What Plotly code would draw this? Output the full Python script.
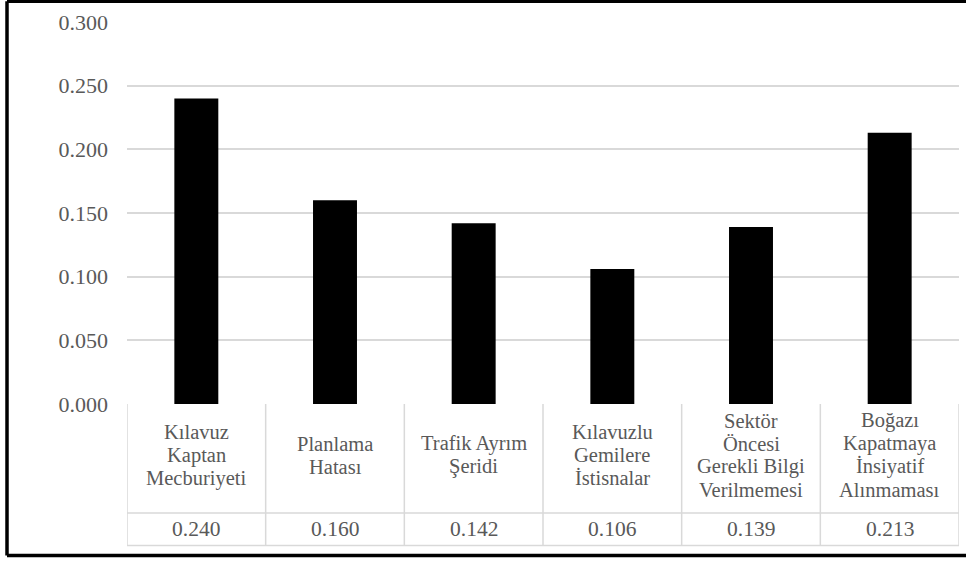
import plotly.graph_objects as go

# ---- data ----
categories = [
    "Kılavuz Kaptan Mecburiyeti",
    "Planlama Hatası",
    "Trafik Ayrım Şeridi",
    "Kılavuzlu Gemilere İstisnalar",
    "Sektör Öncesi Gerekli Bilgi Verilmemesi",
    "Boğazı Kapatmaya İnsiyatif Alınmaması",
]
label_lines = [
    ["Kılavuz", "Kaptan", "Mecburiyeti"],
    ["Planlama", "Hatası"],
    ["Trafik Ayrım", "Şeridi"],
    ["Kılavuzlu", "Gemilere", "İstisnalar"],
    ["Sektör", "Öncesi", "Gerekli Bilgi", "Verilmemesi"],
    ["Boğazı", "Kapatmaya", "İnsiyatif", "Alınmaması"],
]
values = [0.240, 0.160, 0.142, 0.106, 0.139, 0.213]
y_ticks = [0.0, 0.05, 0.10, 0.15, 0.20, 0.25, 0.30]
y_tick_labels = ["0.000", "0.050", "0.100", "0.150", "0.200", "0.250", "0.300"]

# ---- layout geometry (pixels) ----
W, H = 966, 561
ML, MR, MT, MB = 127, 7, 22, 157
PW = W - ML - MR
PH = H - MT - MB
ZERO_Y = H - MB  # pixel y of value 0


def py(p):
    return (ZERO_Y - p) / PH


def px(p):
    return (p - ML) / PW


FONT = "Liberation Serif, Times New Roman, serif"
TXT = "#595959"
GRID = "#d9d9d9"
TABLE_FS = 20.5

fig = go.Figure()
fig.add_trace(go.Bar(
    x=list(range(len(categories))),
    y=values,
    marker=dict(color="#000000", line=dict(width=0)),
    hovertext=categories,
    showlegend=False,
))

shapes = []
annotations = []

# table geometry
ROW1_BOTTOM = 513
ROW2_BOTTOM = 545.5
for i in range(len(categories) + 1):
    shapes.append(dict(type="line", xref="x", yref="paper",
                       x0=i - 0.5, x1=i - 0.5, y0=py(ZERO_Y), y1=py(ROW2_BOTTOM),
                       line=dict(color=GRID, width=1.5)))
for yy in (ROW1_BOTTOM, ROW2_BOTTOM):
    shapes.append(dict(type="line", xref="paper", yref="paper",
                       x0=0, x1=1, y0=py(yy), y1=py(yy),
                       line=dict(color=GRID, width=1.5)))

LINE_STEP = 23
ROW1_CENTER = 455
ROW2_CENTER = (ROW1_BOTTOM + ROW2_BOTTOM) / 2
for i, lines in enumerate(label_lines):
    n = len(lines)
    for j, t in enumerate(lines):
        yc = ROW1_CENTER + (j - (n - 1) / 2) * LINE_STEP
        annotations.append(dict(xref="x", yref="paper", x=i, y=py(yc),
                                text=t, showarrow=False, xanchor="center",
                                yanchor="middle", borderpad=0,
                                font=dict(family=FONT, size=TABLE_FS, color=TXT)))
    annotations.append(dict(xref="x", yref="paper", x=i, y=py(ROW2_CENTER),
                            text=f"{values[i]:.3f}", showarrow=False,
                            xanchor="center", yanchor="middle", borderpad=0,
                            font=dict(family=FONT, size=TABLE_FS + 1, color=TXT)))

# outer black frame (left, top, bottom edges; right edge lies outside the picture)
FL, FT, FB, FR = 7, 1.2, 555.5, 1100
frame = [((FL, FT), (FL, FB)), ((FL, FT), (FR, FT)), ((FL, FB), (FR, FB))]
for (a, b) in frame:
    shapes.append(dict(type="line", xref="paper", yref="paper",
                       x0=px(a[0]), y0=py(a[1]), x1=px(b[0]), y1=py(b[1]),
                       line=dict(color="#000000", width=3.5), layer="above"))

fig.update_layout(
    width=W, height=H,
    margin=dict(l=ML, r=MR, t=MT, b=MB, pad=0),
    paper_bgcolor="white",
    plot_bgcolor="white",
    bargap=0.683,
    font=dict(family=FONT, color=TXT),
    shapes=shapes,
    annotations=annotations,
    xaxis=dict(type="linear", range=[-0.5, len(categories) - 0.5],
               showticklabels=False, showgrid=False, zeroline=False,
               ticks="", showline=False),
    yaxis=dict(range=[0, 0.3], tickvals=y_ticks, ticktext=y_tick_labels,
               showgrid=True, gridcolor=GRID, gridwidth=1.5,
               zeroline=False, showline=False, ticks="",
               ticklabelstandoff=18,
               tickfont=dict(family=FONT, size=22, color=TXT)),
)

fig.write_html("out.html")
